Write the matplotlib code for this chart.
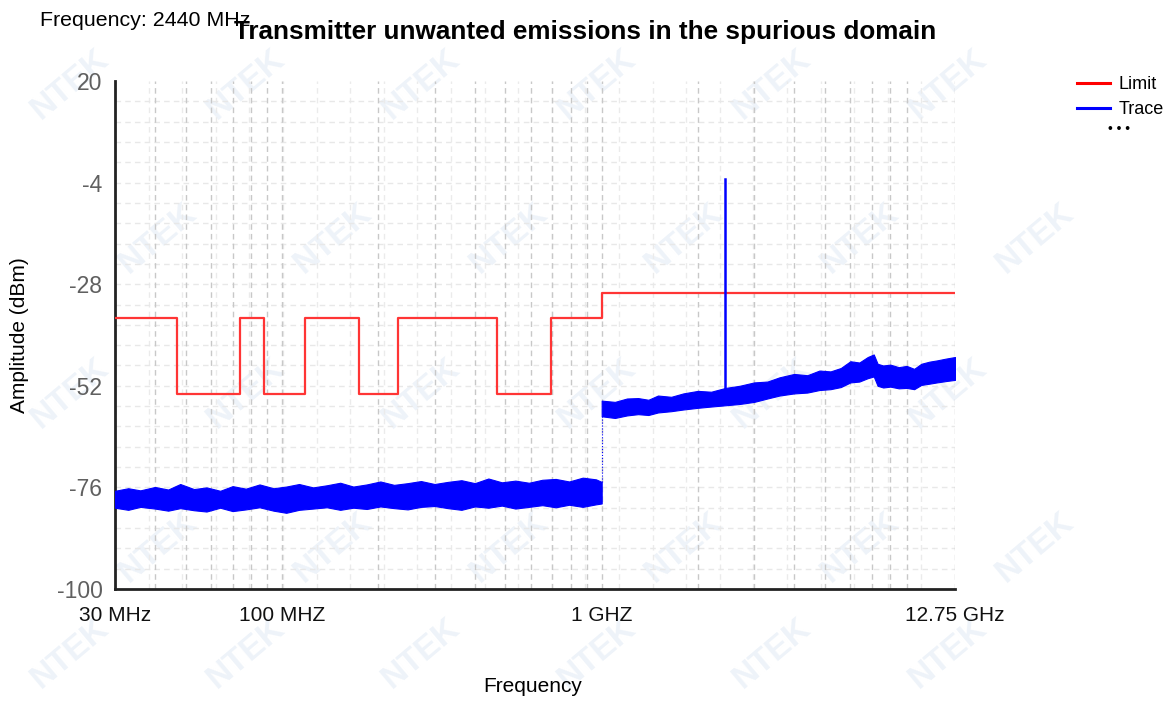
import matplotlib
matplotlib.use("Agg")
import matplotlib.pyplot as plt
from matplotlib.ticker import LogLocator, NullFormatter, FixedLocator
from matplotlib.lines import Line2D
import numpy as np

plt.rcParams['font.family'] = ['Liberation Sans', 'DejaVu Sans']
plt.rcParams['axes.unicode_minus'] = False

# limit line (MHz edges, dBm), drawn as steps
limit_freq_mhz = [30, 47, 74, 87.5, 118, 174, 230, 470, 694, 1000, 12750]
limit_dbm = [-36, -54, -36, -54, -36, -54, -36, -54, -36, -30, -30]

# trace envelope below 1 GHz (MHz, dBm)
low_freq_mhz = [30, 33, 36, 40, 44, 48, 53, 58, 64, 70, 77, 85, 94, 103, 113, 125, 138, 152, 167,
                184, 203, 224, 247, 272, 300, 330, 364, 401, 442, 487, 537, 592, 652, 718, 791,
                872, 960, 1000]
low_hi = [-76.8, -76.2, -76.7, -75.9, -76.5, -75.2, -76.4, -76.0, -76.8, -75.7, -76.3, -75.3, -76.2,
          -75.8, -75.2, -76.0, -75.5, -74.9, -75.8, -75.3, -74.6, -75.4, -75.0, -74.5, -75.2, -74.7,
          -74.3, -75.0, -73.9, -74.8, -74.4, -74.9, -74.2, -74.0, -74.6, -73.7, -74.1, -74.7]
low_lo = [-80.8, -81.3, -80.6, -81.0, -81.5, -80.9, -81.4, -81.7, -80.8, -81.6, -81.2, -80.7, -81.5,
          -82.0, -81.3, -81.0, -80.7, -81.3, -80.8, -81.1, -80.5, -80.9, -81.2, -80.6, -80.4, -80.9,
          -81.3, -80.5, -80.8, -80.3, -81.0, -80.6, -80.2, -80.7, -80.1, -80.6, -80.0, -79.8]

# trace envelope above 1 GHz (GHz, dBm)
high_freq_ghz = [1.0, 1.1, 1.2, 1.3, 1.4, 1.5, 1.65, 1.8, 2.0, 2.2, 2.44, 2.7, 3.0, 3.3, 3.6, 4.0,
                 4.4, 4.8, 5.2, 5.6, 6.0, 6.4, 6.8, 7.1, 7.3, 7.6, 8.0, 8.5, 9.0, 9.5, 10.0, 10.6,
                 11.2, 11.9, 12.75]
high_hi = [-55.5, -55.8, -55.0, -54.9, -55.3, -54.3, -54.6, -53.8, -53.2, -53.4, -52.5, -52.0, -51.2,
           -51.0, -50.0, -49.2, -49.5, -48.4, -48.6, -47.8, -46.2, -46.5, -45.2, -44.6, -46.8, -47.2,
           -47.0, -47.6, -47.3, -48.0, -46.8, -46.3, -46.0, -45.6, -45.2]
high_lo = [-59.2, -59.6, -59.0, -58.7, -58.9, -58.3, -58.0, -57.6, -57.2, -56.9, -56.6, -56.3, -55.8,
           -55.0, -54.3, -53.8, -53.6, -53.0, -52.8, -52.3, -51.2, -51.0, -50.2, -49.8, -52.0, -52.4,
           -52.2, -52.6, -52.5, -52.8, -51.8, -51.5, -51.2, -50.9, -50.6]

# carrier spike at 2440 MHz
spike_freq_mhz = 2440
spike_dbm = [-54.0, -3.2]

xtick_vals = [30e6, 100e6, 1e9, 12.75e9]
xtick_labels = ['30 MHz', '100 MHZ', '1 GHZ', '12.75 GHz']
ytick_vals = [20, -4, -28, -52, -76, -100]

fig = plt.figure(figsize=(11.7, 7.02), dpi=100)

# faint watermark, kept inside the figure
for row, yy in enumerate([0.88, 0.66, 0.44, 0.22, 0.07]):
    off = 0.0 if row % 2 == 0 else 0.075
    for xx in np.arange(0.06, 0.96, 0.15):
        fig.text(xx + off, yy, 'NTEK', rotation=40, fontsize=24, fontweight='bold',
                 color='#eef3f9', ha='center', va='center', zorder=-5)

ax = fig.add_axes([115 / 1170, 113 / 702, 840 / 1170, 508 / 702])
ax.patch.set_alpha(0)
ax.set_xscale('log')
ax.set_xlim(30e6, 12.75e9)
ax.set_ylim(-100, 20)

# grid: evenly spaced light lines + log minor lines
lx = np.log10(30e6)
rx = np.log10(12.75e9)
for v in np.linspace(lx, rx, 26)[1:-1]:
    ax.axvline(10 ** v, color='#ebebeb', lw=1, ls=(0, (4, 3)), zorder=1)
for v in np.linspace(-100, 20, 26)[1:-1]:
    ax.axhline(v, color='#e8e8e8', lw=1, ls=(0, (4, 3)), zorder=1)
ax.xaxis.set_minor_locator(LogLocator(base=10, subs=np.arange(2, 10)))
ax.xaxis.set_minor_formatter(NullFormatter())
ax.grid(which='minor', axis='x', color='#c8c8c8', lw=1, ls=(0, (4, 3)), zorder=1)
ax.xaxis.set_major_locator(FixedLocator(xtick_vals))
ax.set_xticklabels(xtick_labels)
ax.grid(which='major', axis='x', color='#c8c8c8', lw=1, ls=(0, (4, 3)), zorder=1)
ax.set_yticks(ytick_vals)
ax.tick_params(which='both', length=0)
ax.tick_params(axis='x', labelsize=15, pad=12, labelcolor='#111111')
ax.tick_params(axis='y', labelsize=16.5, pad=9, labelcolor='#606060')

for s in ['top', 'right']:
    ax.spines[s].set_visible(False)
for s in ['left', 'bottom']:
    ax.spines[s].set_linewidth(2)
    ax.spines[s].set_color('#222222')

# limit
ax.plot(np.array(limit_freq_mhz) * 1e6, limit_dbm, drawstyle='steps-post',
        color='#ff3535', lw=1.6, zorder=3)

# trace
blue = '#0000ff'
lf = np.array(low_freq_mhz) * 1e6
hf = np.array(high_freq_ghz) * 1e9
ax.fill_between(lf, low_lo, low_hi, color=blue, lw=0.8, zorder=4)
ax.fill_between(hf, high_lo, high_hi, color=blue, lw=0.8, zorder=4)
ax.plot([lf[-1], hf[0]], [low_hi[-1], high_lo[0]], color=blue, lw=0.8, ls=':', zorder=4)
ax.plot([spike_freq_mhz * 1e6] * 2, spike_dbm, color=blue, lw=1.8, zorder=4)

ax.set_xlabel('Frequency', fontsize=15, va='center')
ax.xaxis.set_label_coords(0.497, (589 - 686) / 508)
ax.set_ylabel('Amplitude (dBm)', fontsize=15, va='center')
ax.yaxis.set_label_coords((20 - 115) / 840, 0.5)

fig.text(585 / 1170, 1 - 32 / 702, 'Transmitter unwanted emissions in the spurious domain',
         fontsize=18.8, fontweight='bold', ha='center', va='center')
fig.text(40 / 1170, 1 - 20 / 702, 'Frequency: 2440 MHz', fontsize=15.4, ha='left', va='center')

handles = [Line2D([], [], color='#ff0000', lw=2.2), Line2D([], [], color=blue, lw=2.2)]
fig.legend(handles, ['Limit', 'Trace'], loc='upper left', bbox_to_anchor=(1061 / 1170, 1 - 60 / 702),
           frameon=False, fontsize=13, handlelength=1.8, handletextpad=0.5, labelspacing=0.42)
fig.text(1119 / 1170, 1 - 129 / 702, '\u2022 \u2022 \u2022', fontsize=10, ha='center', va='center')

fig.savefig('out.png', dpi=100)
